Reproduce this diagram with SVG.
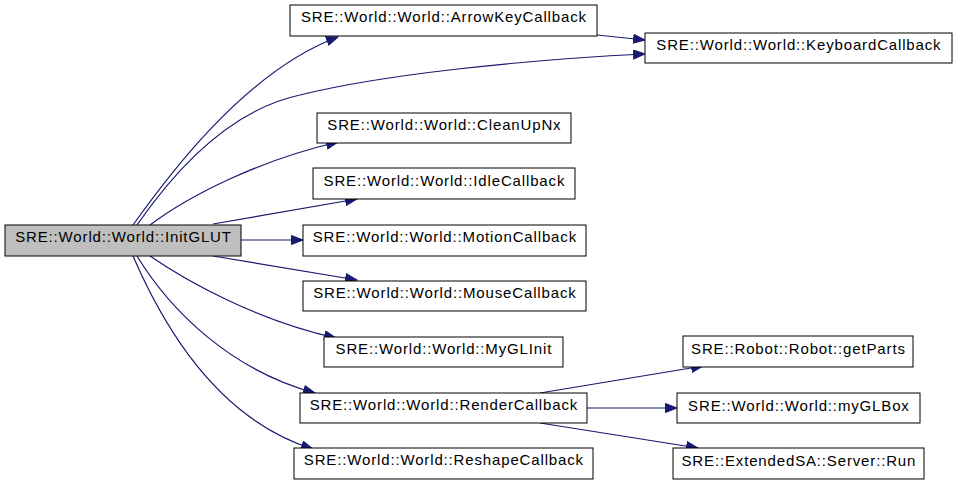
<svg xmlns="http://www.w3.org/2000/svg" width="957" height="485" viewBox="0 0 957 485">
<style>
.n rect{fill:#fff;stroke:#000;stroke-width:1}
#initglut rect{fill:#bfbfbf}
.n text{font-family:"Liberation Sans",Arial,sans-serif;font-size:15px;letter-spacing:0.85px;fill:#000;text-anchor:middle}
.e path{fill:none;stroke:#191970;stroke-width:1.2;marker-end:url(#ah)}
</style>
<defs>
<marker id="ah" markerUnits="userSpaceOnUse" markerWidth="13" markerHeight="10" refX="12" refY="5" orient="auto">
<path d="M0.5,0.5 L12,5 L0.5,9.5 z" fill="#191970" stroke="#191970"/>
</marker>
</defs>
<rect width="957" height="485" fill="#fff"/>
<g id="edges" class="e">
<path d="M133,225 C163,183 243,72 338,37"/>
<path d="M137,225 C175,170 230,110 300,95 C380,75 520,60 645,54"/>
<path d="M597,35 L645,40"/>
<path d="M150,225 C190,195 260,160 338,142"/>
<path d="M213,224 L357,199"/>
<path d="M241,240 L303,240"/>
<path d="M213,256 L357,280"/>
<path d="M150,256 C185,280 255,320 336,338"/>
<path d="M137,256 C170,310 230,370 315,393"/>
<path d="M133,256 C165,330 220,420 313,449"/>
<path d="M540,393 L703,366"/>
<path d="M587,408 L677,408"/>
<path d="M540,423 L698,448"/>
</g>
<g id="initglut" class="n"><rect x="5" y="225" width="236" height="31"/><text x="123.5" y="242">SRE::World::World::InitGLUT</text></g>
<g id="arrowkey" class="n"><rect x="290" y="5" width="307" height="31"/><text x="443.9" y="22">SRE::World::World::ArrowKeyCallback</text></g>
<g id="keyboard" class="n"><rect x="645" y="33" width="307" height="30"/><text x="798.9" y="49.5">SRE::World::World::KeyboardCallback</text></g>
<g id="cleanup" class="n"><rect x="317" y="113" width="254" height="30"/><text x="444.4" y="129.5">SRE::World::World::CleanUpNx</text></g>
<g id="idle" class="n"><rect x="313" y="168" width="262" height="31"/><text x="444.4" y="185.5">SRE::World::World::IdleCallback</text></g>
<g id="motion" class="n"><rect x="303" y="225" width="283" height="31"/><text x="444.9" y="242">SRE::World::World::MotionCallback</text></g>
<g id="mouse" class="n"><rect x="303" y="281" width="283" height="30"/><text x="444.9" y="297.5">SRE::World::World::MouseCallback</text></g>
<g id="myglinit" class="n"><rect x="324" y="337" width="239" height="30"/><text x="443.9" y="353.5">SRE::World::World::MyGLInit</text></g>
<g id="render" class="n"><rect x="300" y="393" width="287" height="30"/><text x="443.9" y="410">SRE::World::World::RenderCallback</text></g>
<g id="reshape" class="n"><rect x="294" y="448" width="299" height="31"/><text x="443.9" y="465">SRE::World::World::ReshapeCallback</text></g>
<g id="getparts" class="n"><rect x="683" y="336" width="230" height="31"/><text x="798.4" y="354">SRE::Robot::Robot::getParts</text></g>
<g id="myglbox" class="n"><rect x="677" y="393" width="243" height="30"/><text x="798.9" y="410.5">SRE::World::World::myGLBox</text></g>
<g id="run" class="n"><rect x="673" y="448" width="251" height="31"/><text x="798.9" y="465.5">SRE::ExtendedSA::Server::Run</text></g>
</svg>
